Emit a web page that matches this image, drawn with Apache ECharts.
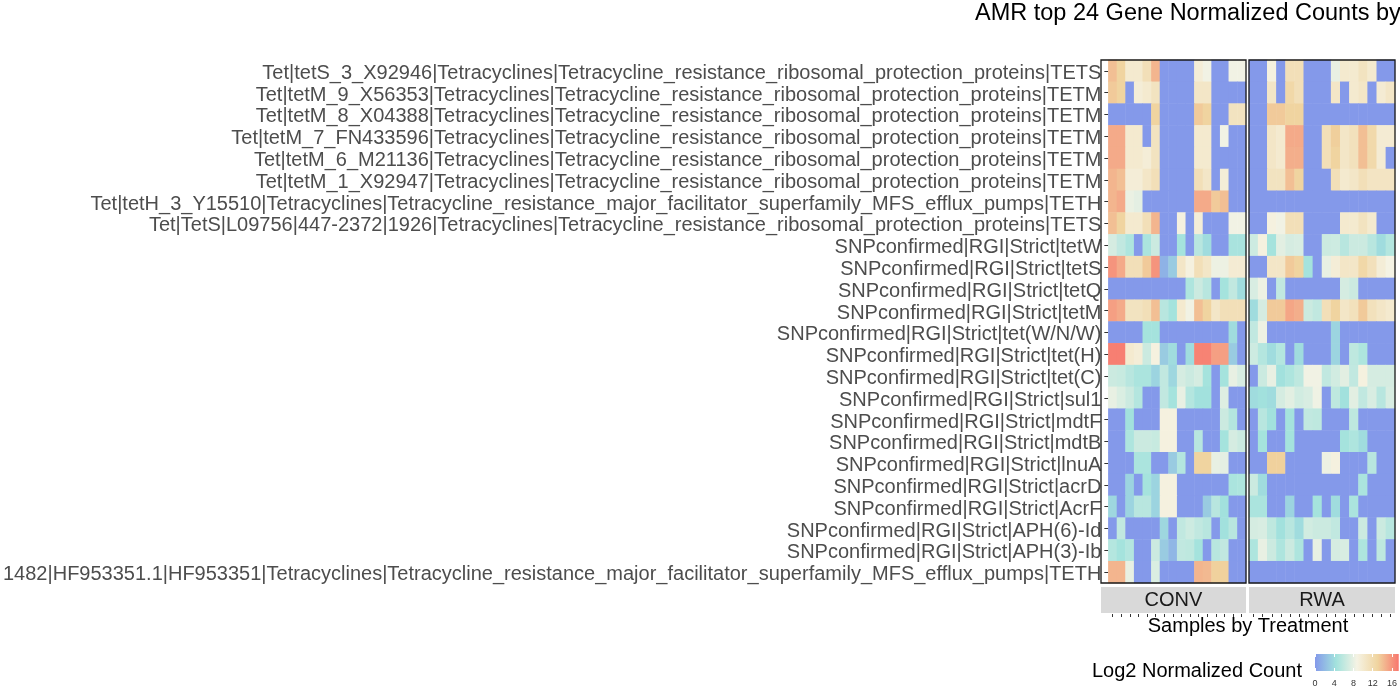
<!DOCTYPE html>
<html>
<head>
<meta charset="utf-8">
<script src="https://cdn.jsdelivr.net/npm/echarts@6/dist/echarts.min.js"></script>
<style>html,body{margin:0;padding:0;background:#fff;}#chart{width:1400px;height:700px;}</style>
</head>
<body>
<div id="chart"></div>
<script>
const genes = [
  'Tet|tetS_3_X92946|Tetracyclines|Tetracycline_resistance_ribosomal_protection_proteins|TETS',
  'Tet|tetM_9_X56353|Tetracyclines|Tetracycline_resistance_ribosomal_protection_proteins|TETM',
  'Tet|tetM_8_X04388|Tetracyclines|Tetracycline_resistance_ribosomal_protection_proteins|TETM',
  'Tet|tetM_7_FN433596|Tetracyclines|Tetracycline_resistance_ribosomal_protection_proteins|TETM',
  'Tet|tetM_6_M21136|Tetracyclines|Tetracycline_resistance_ribosomal_protection_proteins|TETM',
  'Tet|tetM_1_X92947|Tetracyclines|Tetracycline_resistance_ribosomal_protection_proteins|TETM',
  'Tet|tetH_3_Y15510|Tetracyclines|Tetracycline_resistance_major_facilitator_superfamily_MFS_efflux_pumps|TETH',
  'Tet|TetS|L09756|447-2372|1926|Tetracyclines|Tetracycline_resistance_ribosomal_protection_proteins|TETS',
  'SNPconfirmed|RGI|Strict|tetW',
  'SNPconfirmed|RGI|Strict|tetS',
  'SNPconfirmed|RGI|Strict|tetQ',
  'SNPconfirmed|RGI|Strict|tetM',
  'SNPconfirmed|RGI|Strict|tet(W/N/W)',
  'SNPconfirmed|RGI|Strict|tet(H)',
  'SNPconfirmed|RGI|Strict|tet(C)',
  'SNPconfirmed|RGI|Strict|sul1',
  'SNPconfirmed|RGI|Strict|mdtF',
  'SNPconfirmed|RGI|Strict|mdtB',
  'SNPconfirmed|RGI|Strict|lnuA',
  'SNPconfirmed|RGI|Strict|acrD',
  'SNPconfirmed|RGI|Strict|AcrF',
  'SNPconfirmed|RGI|Strict|APH(6)-Id',
  'SNPconfirmed|RGI|Strict|APH(3)-Ib',
  '1482|HF953351.1|HF953351|Tetracyclines|Tetracycline_resistance_major_facilitator_superfamily_MFS_efflux_pumps|TETH'
];
const treatments = ['CONV', 'RWA'];
const convSamples = ['CONV_01','CONV_02','CONV_03','CONV_04','CONV_05','CONV_06','CONV_07','CONV_08','CONV_09','CONV_10','CONV_11','CONV_12','CONV_13','CONV_14','CONV_15','CONV_16'];
const rwaSamples = ['RWA_01','RWA_02','RWA_03','RWA_04','RWA_05','RWA_06','RWA_07','RWA_08','RWA_09','RWA_10','RWA_11','RWA_12','RWA_13','RWA_14','RWA_15','RWA_16'];

// Log2 normalized counts, one row per gene (top to bottom), one column per sample
const convValues = [
  [14, 13, 10, 10, 11.5, 14.5, 0, 0, 0, 0, 9.5, 8.5, 0, 0, 8.5, 8.5],
  [13.5, 13, 0, 9.5, 10, 11, 0, 0, 0, 0, 10.5, 10.5, 0, 0, 0, 0],
  [0, 0, 0, 0, 0, 13, 0, 0, 0, 0, 13.5, 13, 0, 0, 11, 11],
  [15, 15, 10, 10, 0, 11, 0, 0, 0, 0, 10, 10, 0, 8.5, 0, 0],
  [15, 15, 10, 10, 9.5, 11, 0, 0, 0, 0, 10, 10, 0, 0, 0, 0],
  [14.5, 14, 9.5, 9.5, 10.5, 11.5, 0, 0, 0, 0, 11.5, 10.5, 0, 9.5, 0, 0],
  [14.5, 15, 8.2, 7.8, 0, 0, 0, 0, 0, 0, 15, 15, 13.5, 14, 0, 0],
  [14, 13, 10, 10, 11.5, 14.5, 0, 0, 9, 0, 9.5, 0, 0, 0, 8.5, 8.5],
  [7, 6, 5, 0, 4.8, 6.5, 0, 0, 4.5, 0, 5.5, 4, 0, 0, 4.7, 4.7],
  [16, 15, 11.5, 11.5, 13.5, 16, 1.5, 3, 10.5, 9, 11.5, 10.5, 8.3, 8.3, 9.8, 9.8],
  [0, 0, 0, 0, 0, 0, 0, 0, 0, 5, 6.5, 5.5, 0, 4.5, 6, 4],
  [15.5, 15, 11, 11, 11.5, 14, 5.5, 4.5, 10, 8.5, 14, 13, 10.5, 11.5, 11.5, 11.5],
  [0, 0, 0, 0, 4.5, 4.5, 0, 0, 0, 0, 0, 0, 0, 0, 4, 0],
  [17, 17, 10, 9.5, 6.5, 9, 3, 4, 0, 4, 16.8, 16.8, 15.5, 15.5, 3, 0],
  [6.5, 6.3, 5.5, 4.8, 4.8, 3.5, 6, 3.7, 7, 6.5, 7, 4.5, 0, 4.5, 8, 7.2],
  [8, 7.3, 6.5, 5.3, 0, 0, 6, 4.5, 8, 5.3, 4.3, 4.3, 0, 7.5, 0, 0],
  [0, 0, 4.3, 0, 0, 0, 9, 9, 0, 0, 0, 0, 0, 6.5, 5.3, 0],
  [0, 0, 5, 6.5, 6.5, 6.3, 9, 9, 0, 0, 5.5, 0, 0, 4.5, 7, 6.5],
  [0, 0, 0, 4.8, 4.8, 0, 0, 3, 5.3, 0, 13, 13, 8, 7.8, 0, 0],
  [0, 0, 3.5, 0, 4.5, 3.5, 9, 9, 0, 0, 0, 0, 0, 0, 4.8, 5],
  [3.7, 0, 3.5, 5.5, 5.5, 3.5, 9, 9, 0, 0, 0, 3, 5.5, 4.3, 0, 0],
  [0, 6, 0, 0, 0, 0, 3.7, 0, 6, 6.6, 6, 5.5, 0, 4.3, 5.5, 0],
  [5.3, 4.5, 5.3, 0, 0, 6.5, 3, 1.8, 6, 5.8, 4.5, 0, 5.5, 6, 0, 0],
  [14.5, 14.5, 8, 0, 0, 7.3, 0, 0, 0, 0, 14.5, 14.3, 13.2, 13.2, 0, 0]
];
const rwaValues = [
  [0, 0, 9, 0, 11.5, 11.5, 0, 0, 0, 8, 10, 10, 11, 10, 0, 0],
  [0, 0, 10.5, 0, 12.5, 11.5, 0, 0, 0, 10.5, 0, 10, 10.5, 0, 9.8, 10.5],
  [0, 0, 13.5, 13.5, 13, 13, 0, 0, 0, 0, 0, 0, 0, 0, 0, 0],
  [0, 0, 10.5, 10, 15, 15, 0, 0, 11.5, 13.3, 10.5, 11.2, 14, 12.3, 9.8, 9.8],
  [0, 0, 10.5, 10, 14.8, 14.8, 0, 0, 11.5, 13, 10.5, 11.2, 14, 12.3, 9.8, 0],
  [0, 0, 11, 11, 14, 13, 0, 0, 0, 11.5, 10, 10.5, 11.5, 10.8, 10.8, 10.8],
  [0, 0, 0, 0, 0, 0, 0, 0, 0, 0, 0, 0, 0, 0, 0, 0],
  [0, 0, 9, 8.5, 11.5, 11.5, 0, 0, 0, 0, 10, 10, 11, 10, 0, 0],
  [6.6, 9, 4.5, 7.7, 7, 7.2, 0, 0, 6.5, 6.6, 5.5, 6.5, 6.5, 5.5, 4, 5.3],
  [0, 0, 10.5, 10.5, 13.5, 13, 4.5, 0, 8, 9.5, 10.5, 10.5, 12.5, 11.3, 9.5, 8.7],
  [7.2, 8.3, 0, 6, 0, 0, 0, 0, 0, 0, 7, 6.5, 0, 0, 0, 0],
  [4, 7, 13.5, 13.5, 15.2, 14.8, 6.5, 6, 11.5, 13, 10.5, 11.2, 13.5, 11.2, 10.5, 10],
  [6, 8.3, 0, 0, 0, 0, 0, 0, 0, 3.5, 0, 0, 0, 0, 0, 0],
  [6.6, 5.3, 4, 5.3, 0, 4, 0, 0, 0, 3.5, 0, 5.8, 5, 0, 0, 0],
  [0, 6.5, 8, 4.3, 5, 5.8, 8.5, 8.5, 6, 6.8, 7.7, 6, 9, 7, 7, 7],
  [4, 4.3, 4, 7, 7.7, 6.8, 7.2, 8.4, 0, 5.8, 4.3, 7.7, 6, 7.2, 5.5, 7.2],
  [0, 5.5, 4.3, 0, 4.5, 0, 6, 5.8, 0, 0, 0, 5.8, 0, 0, 0, 0],
  [0, 4.5, 0, 0, 4.5, 0, 0, 0, 0, 0, 4.5, 5, 4, 0, 0, 0],
  [0, 0, 13.2, 13.2, 0, 0, 0, 0, 8.3, 9, 0, 0, 0, 5.5, 0, 0],
  [6.5, 4, 0, 0, 0, 0, 0, 0, 0, 0, 0, 0, 4.8, 0, 0, 0],
  [4.8, 4.8, 0, 0, 3.5, 0, 0, 4.5, 0, 4, 0, 4.8, 0, 0, 0, 0],
  [7, 7.2, 5.8, 4.3, 5.5, 4, 6.8, 6.5, 6.5, 6, 0, 0, 6.5, 0, 6.5, 5.5],
  [5, 8, 6.5, 5, 6.5, 5, 0, 8, 0, 7, 7.2, 0, 5, 0, 5.8, 0],
  [0, 0, 0, 0, 0, 0, 0, 0, 0, 0, 0, 0, 0, 0, 0, 0]
];
const legendTicks = [0, 4, 8, 12, 16];
const legendMax = 17.4;
const palette = ['#8499ea', '#a2e2dd', '#f5f3e4', '#f0d49f', '#f8766d'];

const FONT = 'Liberation Sans, Arial, Helvetica, sans-serif';
const PANEL_TOP = 60, PANEL_H = 523;
const CONV_L = 1101, CONV_W = 145, RWA_L = 1249, RWA_W = 146;
const STRIP_GAP = 4, STRIP_H = 26;

function toCells(values) {
  const out = [];
  values.forEach((row, r) => row.forEach((v, c) => out.push([c, r, v])));
  return out;
}

function panelDecor(left, width, label) {
  return [
    { type: 'rect', z: 100, silent: true,
      shape: { x: left, y: PANEL_TOP, width: width, height: PANEL_H },
      style: { fill: 'none', stroke: '#1a1a1a', lineWidth: 1.3 } },
    { type: 'rect', z: 100, silent: true,
      shape: { x: left, y: PANEL_TOP + PANEL_H + STRIP_GAP, width: width, height: STRIP_H },
      style: { fill: '#d9d9d9' } },
    { type: 'text', z: 101, silent: true,
      x: left + width / 2, y: PANEL_TOP + PANEL_H + STRIP_GAP + STRIP_H / 2,
      style: { text: label, fill: '#1a1a1a', font: '20px ' + FONT, align: 'center', verticalAlign: 'middle' } }
  ];
}

const chart = echarts.init(document.getElementById('chart'), null, { renderer: 'canvas' });
const catXAxis = (gridIndex, data) => ({
  type: 'category', gridIndex, data, offset: STRIP_GAP + STRIP_H + 1,
  axisLine: { show: false },
  axisTick: { show: true, interval: 0, alignWithLabel: true, length: 3, lineStyle: { color: '#333', width: 1 } },
  axisLabel: { show: false, interval: 0 },
  splitLine: { show: false }
});

chart.setOption({
  animation: false,
  backgroundColor: '#ffffff',
  title: {
    text: 'AMR top 24 Gene Normalized Counts by Treatment',
    left: 975, top: 2, padding: 0,
    textStyle: { fontFamily: FONT, fontSize: 23.5, fontWeight: 'normal', color: '#000' }
  },
  grid: [
    { left: CONV_L, top: PANEL_TOP, width: CONV_W, height: PANEL_H },
    { left: RWA_L, top: PANEL_TOP, width: RWA_W, height: PANEL_H },
    { left: 1315, top: 654, width: 85, height: 17, show: true, borderWidth: 0,
      backgroundColor: { type: 'linear', x: 0, y: 0, x2: 1, y2: 0,
        colorStops: palette.map((c, i) => ({ offset: i / (palette.length - 1), color: c })) } }
  ],
  xAxis: [
    catXAxis(0, convSamples),
    catXAxis(1, rwaSamples),
    { type: 'value', gridIndex: 2, min: 0, max: legendMax, position: 'bottom',
      axisLine: { show: false }, splitLine: { show: false },
      axisTick: { show: true, inside: true, length: 3, customValues: legendTicks, lineStyle: { color: '#fff', width: 1 } },
      axisLabel: { show: true, customValues: legendTicks, margin: 8, fontSize: 9, color: '#333', fontFamily: FONT } },
    { type: 'value', gridIndex: 2, min: 0, max: legendMax, position: 'top',
      axisLine: { show: false }, splitLine: { show: false },
      axisTick: { show: true, inside: true, length: 3, customValues: legendTicks, lineStyle: { color: '#fff', width: 1 } },
      axisLabel: { show: false } }
  ],
  yAxis: [
    { type: 'category', gridIndex: 0, data: genes, inverse: true,
      axisLine: { show: false },
      axisTick: { show: true, interval: 0, alignWithLabel: true, length: 4, lineStyle: { color: '#333' } },
      axisLabel: { interval: 0, margin: 7, fontSize: 20, color: '#4d4d4d', fontFamily: FONT,
        verticalAlign: 'top', lineHeight: 5 },
      splitLine: { show: false } },
    { type: 'category', gridIndex: 1, data: genes, inverse: true,
      axisLine: { show: false }, axisTick: { show: false }, axisLabel: { show: false }, splitLine: { show: false } },
    { type: 'value', gridIndex: 2, show: false, min: 0, max: 1 }
  ],
  visualMap: {
    show: false, type: 'continuous', min: 0, max: legendMax, seriesIndex: [0, 1],
    inRange: { color: palette }
  },
  series: [
    { type: 'heatmap', name: treatments[0], xAxisIndex: 0, yAxisIndex: 0, data: toCells(convValues),
      emphasis: { disabled: true }, progressive: 0 },
    { type: 'heatmap', name: treatments[1], xAxisIndex: 1, yAxisIndex: 1, data: toCells(rwaValues),
      emphasis: { disabled: true }, progressive: 0 }
  ],
  graphic: [
    ...panelDecor(CONV_L, CONV_W, treatments[0]),
    ...panelDecor(RWA_L, RWA_W, treatments[1]),
    { type: 'text', silent: true, x: (CONV_L + RWA_L + RWA_W) / 2, y: 626,
      style: { text: 'Samples by Treatment', fill: '#000', font: '20px ' + FONT, align: 'center', verticalAlign: 'middle' } },
    { type: 'text', silent: true, x: 1302, y: 671,
      style: { text: 'Log2 Normalized Count', fill: '#000', font: '20px ' + FONT, align: 'right', verticalAlign: 'middle' } }
  ]
});
</script>
</body>
</html>
